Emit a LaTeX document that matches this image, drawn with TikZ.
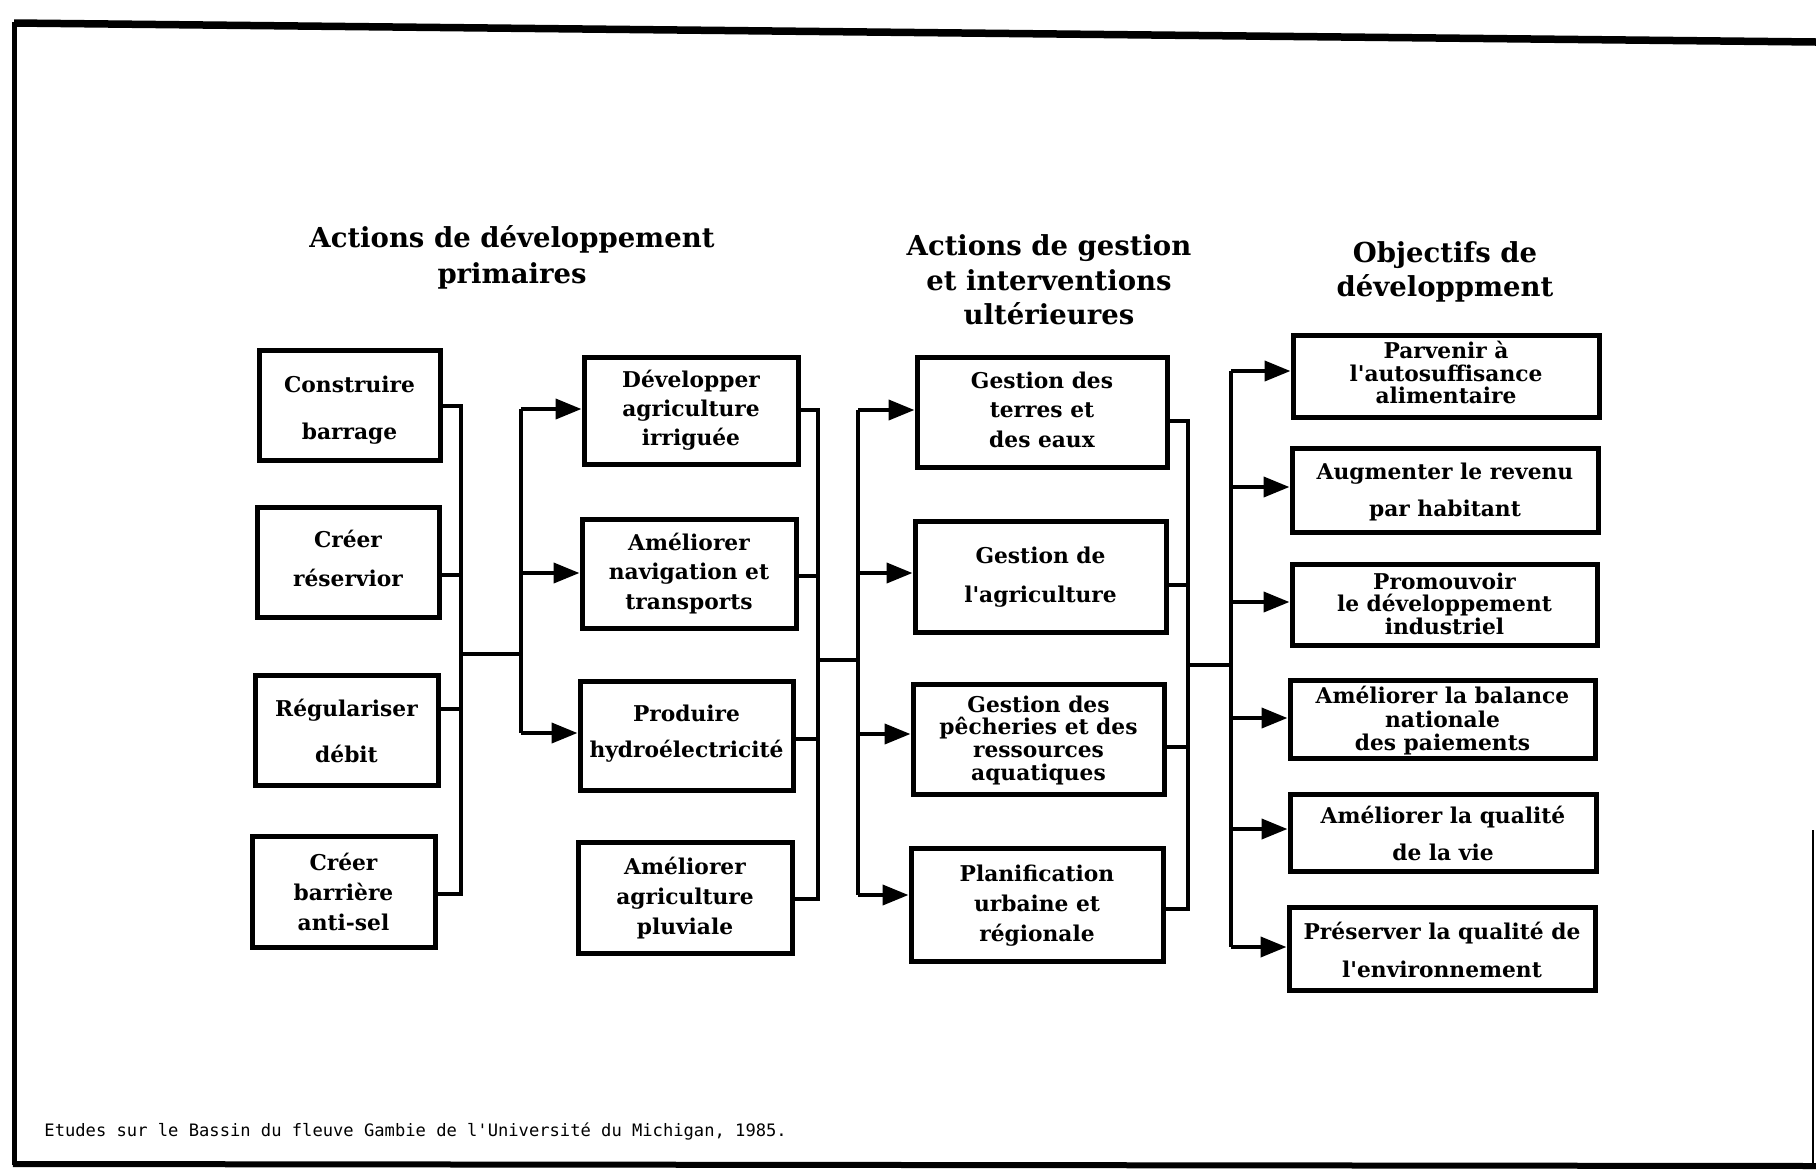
\documentclass[tikz,border=0pt]{standalone}
\usepackage{fontspec}
\usetikzlibrary{arrows.meta,fit}
\newfontfamily\boxfont{DejaVu Serif}
\newfontfamily\notefont{DejaVu Sans Mono}

\tikzset{
  box/.style={draw, line width=2pt, inner sep=0pt},
  lsp/.style={align=center, inner sep=0pt, font=\boxfont\bfseries\fontsize{8.7pt}{#1}\selectfont},
  head/.style={align=center, inner sep=0pt, font=\boxfont\bfseries\fontsize{11pt}{#1}\selectfont},
  link/.style={line width=1.6pt},
  arr/.style={line width=1.6pt, -{Triangle[length=10.4pt,width=8pt]}},
}

\begin{document}
\begin{tikzpicture}[x=0.4pt,y=-0.4pt]
\useasboundingbox (0,0) rectangle (1816,1175);

% outer frame
\draw[line width=3pt] (14,23) -- (1816,42);
\draw[line width=2pt] (14,22) -- (14,1165);
\draw[line width=2.4pt] (13,1164) -- (1816,1166);
\draw[line width=0.8pt] (1813,830) -- (1813,1165);

% column headings
\node[head=14.4pt] (h1) at (512,257) {Actions de développement\\primaires};
\node[head=13.8pt] (h2) at (1049,280) {Actions de gestion\\et interventions\\ultérieures};
\node[head=13.6pt] (h3) at (1445,272) {Objectifs de\\développment};

% ---- boxes
\node[box, fit={(259,350)(440,460)}] (A1) {};
\node[box, fit={(257,507)(439,617)}] (A2) {};
\node[box, fit={(255,675)(438,785)}] (A3) {};
\node[box, fit={(252,836)(435,947)}] (A4) {};

\node[box, fit={(584,357)(798,464)}] (B1) {};
\node[box, fit={(582,519)(796,628)}] (B2) {};
\node[box, fit={(580,681)(793,790)}] (B3) {};
\node[box, fit={(578,842)(792,953)}] (B4) {};

\node[box, fit={(917,357)(1167,467)}] (C1) {};
\node[box, fit={(915,521)(1166,632)}] (C2) {};
\node[box, fit={(913,684)(1164,794)}] (C3) {};
\node[box, fit={(911,848)(1163,961)}] (C4) {};

\node[box, fit={(1293,335)(1599,417)}] (D1) {};
\node[box, fit={(1292,448)(1598,532)}] (D2) {};
\node[box, fit={(1292,564)(1597,645)}] (D3) {};
\node[box, fit={(1290,680)(1595,758)}] (D4) {};
\node[box, fit={(1290,794)(1596,871)}] (D5) {};
\node[box, fit={(1289,907)(1595,990)}] (D6) {};

% ---- box texts: primary development actions
\node[lsp=19pt]   (A1t) at ([yshift=-2.1pt]A1.center) {Construire\\barrage};
\node[lsp=15.3pt] (A2t) at ([yshift=1.4pt]A2.center)  {Créer\\réservior};
\node[lsp=18.5pt] (A3t) at ([yshift=-0.4pt]A3.center) {Régulariser\\débit};
\node[lsp=12pt]   (A4t) at (A4.center)                {Créer\\barrière\\anti-sel};

\node[lsp=11.6pt] (B1t) at (B1.center)                {Développer\\agriculture\\irriguée};
\node[lsp=11.8pt] (B2t) at (B2.center)                {Améliorer\\navigation et\\transports};
\node[lsp=14.4pt] (B3t) at ([yshift=0.9pt]B3.center)  {Produire\\hydroélectricité};
\node[lsp=12pt]   (B4t) at ([yshift=-0.4pt]B4.center) {Améliorer\\agriculture\\pluviale};

% management actions
\node[lsp=11.8pt] (C1t) at ([yshift=0.9pt]C1.center)  {Gestion des\\terres et\\des eaux};
\node[lsp=15.3pt] (C2t) at ([yshift=-0.3pt]C2.center) {Gestion de\\l'agriculture};
\node[lsp=9.1pt]  (C3t) at ([yshift=-0.5pt]C3.center) {Gestion des\\pêcheries et des\\ressources\\aquatiques};
\node[lsp=12pt]   (C4t) at ([yshift=-0.5pt]C4.center) {Planification\\urbaine et\\régionale};

% development objectives
\node[lsp=9pt]    (D1t) at ([yshift=1.4pt]D1.center)  {Parvenir à\\l'autosuffisance\\alimentaire};
\node[lsp=14.8pt] (D2t) at ([yshift=-0.7pt]D2.center) {Augmenter le revenu\\par habitant};
\node[lsp=9pt]    (D3t) at ([yshift=0.4pt]D3.center)  {Promouvoir\\le développement\\industriel};
\node[lsp=9.5pt]  (D4t) at ([yshift=-0.7pt]D4.center) {Améliorer la balance\\nationale\\des paiements};
\node[lsp=14.8pt] (D5t) at ([yshift=-0.2pt]D5.center) {Améliorer la qualité\\de la vie};
\node[lsp=15.3pt] (D6t) at ([yshift=-0.5pt]D6.center) {Préserver la qualité de\\l'environnement};

% source note
\node[anchor=west, inner sep=0pt, font=\notefont\fontsize{6.85pt}{8pt}\selectfont] (src) at (44,1131)
  {Etudes sur le Bassin du fleuve Gambie de l'Université du Michigan, 1985.};

% ---- A column to B column
\coordinate (a1) at (461,406); \coordinate (a2) at (461,575);
\coordinate (a3) at (461,709); \coordinate (a4) at (461,894);
\coordinate (aj) at (461,654); \coordinate (bj) at (521,654);
\coordinate (b1) at (521,409); \coordinate (b2) at (521,573); \coordinate (b3) at (521,733);
\draw[link] (A1.east |- a1) -- (a1) -- (a4) -- (A4.east |- a4);
\draw[link] (A2.east |- a2) -- (a2);
\draw[link] (A3.east |- a3) -- (a3);
\draw[link] (aj) -- (bj);
\draw[link] (b1) -- (b3);
\draw[arr] (b1) -- (B1.west |- b1);
\draw[arr] (b2) -- (B2.west |- b2);
\draw[arr] (b3) -- (B3.west |- b3);

% ---- B column to C column
\coordinate (p1) at (818,410); \coordinate (p2) at (818,576);
\coordinate (p3) at (818,739); \coordinate (p4) at (818,899);
\coordinate (pj) at (818,660); \coordinate (qj) at (858,660);
\coordinate (q1) at (858,410); \coordinate (q2) at (858,573);
\coordinate (q3) at (858,734); \coordinate (q4) at (858,895);
\draw[link] (B1.east |- p1) -- (p1) -- (p4) -- (B4.east |- p4);
\draw[link] (B2.east |- p2) -- (p2);
\draw[link] (B3.east |- p3) -- (p3);
\draw[link] (pj) -- (qj);
\draw[link] (q1) -- (q4);
\draw[arr] (q1) -- (C1.west |- q1);
\draw[arr] (q2) -- (C2.west |- q2);
\draw[arr] (q3) -- (C3.west |- q3);
\draw[arr] (q4) -- (C4.west |- q4);

% ---- C column to objectives
\coordinate (r1) at (1188,421); \coordinate (r2) at (1188,585);
\coordinate (r3) at (1188,747); \coordinate (r4) at (1188,909);
\coordinate (rj) at (1188,665); \coordinate (sj) at (1231,665);
\coordinate (s1) at (1231,371); \coordinate (s2) at (1231,487); \coordinate (s3) at (1231,602);
\coordinate (s4) at (1231,718); \coordinate (s5) at (1231,829); \coordinate (s6) at (1231,947);
\draw[link] (C1.east |- r1) -- (r1) -- (r4) -- (C4.east |- r4);
\draw[link] (C2.east |- r2) -- (r2);
\draw[link] (C3.east |- r3) -- (r3);
\draw[link] (rj) -- (sj);
\draw[link] (s1) -- (s6);
\draw[arr] (s1) -- (D1.west |- s1);
\draw[arr] (s2) -- (D2.west |- s2);
\draw[arr] (s3) -- (D3.west |- s3);
\draw[arr] (s4) -- (D4.west |- s4);
\draw[arr] (s5) -- (D5.west |- s5);
\draw[arr] (s6) -- (D6.west |- s6);
\end{tikzpicture}
\end{document}
